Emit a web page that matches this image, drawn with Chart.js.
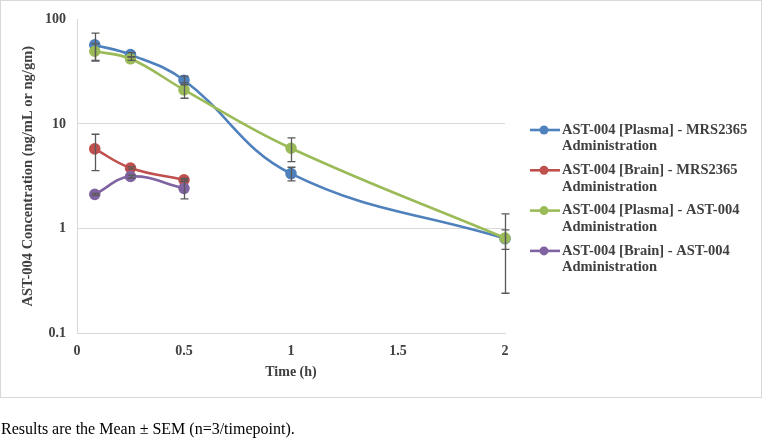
<!DOCTYPE html>
<html>
<head>
<meta charset="utf-8">
<script src="https://cdn.jsdelivr.net/npm/chart.js@4.4.0/dist/chart.umd.min.js"></script>
<style>
  body { margin: 0; background: #fff; }
  #box { position: absolute; left: 0; top: 0; width: 760px; height: 396px; border: 1px solid #d9d9d9; }
  #chart { position: absolute; left: 0; top: 0; }
</style>
</head>
<body>
<div id="box"></div>
<canvas id="chart" width="763" height="439"></canvas>
<script>
// time points (h)
const times = [0.083, 0.25, 0.5, 1, 2];
const brainTimes = [0.083, 0.25, 0.5];
const yTicks = [0.1, 1, 10, 100];

const labels = [
  'AST-004 [Plasma] - MRS2365 Administration',
  'AST-004 [Brain] - MRS2365 Administration',
  'AST-004 [Plasma] - AST-004 Administration',
  'AST-004 [Brain] - AST-004 Administration'
];
const colors = ['#4F81BD', '#C0504D', '#9BBB59', '#8064A2'];
const caption = 'Results are the Mean ± SEM (n=3/timepoint).';

// mean values
const plasmaMrs = [57, 46, 26.2, 3.35, 0.8];
const brainMrs = [5.77, 3.79, 2.92];
const plasmaAst = [49.6, 42, 21.2, 5.85, 0.81];
const brainAst = [2.12, 3.14, 2.42];

// SEM
const plasmaMrsErr = [17, 2, 2.5, 0.5, 0.17];
const brainMrsErr = [2.2, 0.1, 0.1];
const plasmaAstErr = [9, 1.5, 3.6, 1.5, 0.57];
const brainAstErr = [0.05, 0.1, 0.5];

const series = [
  { xs: times, ys: plasmaMrs, errs: plasmaMrsErr },
  { xs: brainTimes, ys: brainMrs, errs: brainMrsErr },
  { xs: times, ys: plasmaAst, errs: plasmaAstErr },
  { xs: brainTimes, ys: brainAst, errs: brainAstErr }
];

const FONT = "'Liberation Serif', 'Times New Roman', serif";

/**
 * error bars drawn with the chart's own scales
 */
const errorBars = {
  id: 'errorBars',
  afterDatasetsDraw(chart) {
    const ctx = chart.ctx;
    const y = chart.scales.y;
    ctx.save();
    ctx.strokeStyle = '#595959';
    ctx.lineWidth = 1.3;
    chart.data.datasets.forEach((ds, i) => {
      const meta = chart.getDatasetMeta(i);
      meta.data.forEach((pt, j) => {
        const v = ds.data[j].y, e = ds.errs[j];
        const top = y.getPixelForValue(v + e);
        const bot = y.getPixelForValue(v - e);
        const x = Math.round(pt.x) + 0.5;
        ctx.beginPath();
        ctx.moveTo(x, top); ctx.lineTo(x, bot);
        ctx.moveTo(x - 4, top); ctx.lineTo(x + 4, top);
        ctx.moveTo(x - 4, bot); ctx.lineTo(x + 4, bot);
        ctx.stroke();
      });
    });
    ctx.restore();
  }
};

/**
 * legend on the right, labels wrapped to two lines; caption under the box
 */
const sideLegend = {
  id: 'sideLegend',
  afterDraw(chart) {
    const ctx = chart.ctx;
    ctx.save();
    ctx.font = `bold 14.5px ${FONT}`;
    ctx.textBaseline = 'middle';
    chart.data.datasets.forEach((ds, i) => {
      const y0 = 130 + i * 40.3;
      // line sample with marker
      ctx.strokeStyle = ds.borderColor;
      ctx.lineWidth = 2.6;
      ctx.beginPath(); ctx.moveTo(530, y0); ctx.lineTo(560, y0); ctx.stroke();
      ctx.fillStyle = ds.borderColor;
      ctx.beginPath(); ctx.arc(544, y0, 4.5, 0, Math.PI * 2); ctx.fill();
      // wrap text
      const words = ds.label.split(' ');
      const lines = [];
      let cur = '';
      words.forEach(w => {
        const t = cur ? cur + ' ' + w : w;
        if (ctx.measureText(t).width > 195 && cur) { lines.push(cur); cur = w; } else cur = t;
      });
      lines.push(cur);
      ctx.fillStyle = '#404040';
      lines.forEach((l, k) => ctx.fillText(l, 562, y0 + k * 16.5));
    });
    ctx.font = `16px ${FONT}`;
    ctx.fillStyle = '#000';
    ctx.fillText(caption, 1, 430);
    ctx.restore();
  }
};

const chart = new Chart(document.getElementById('chart'), {
  type: 'line',
  data: {
    datasets: series.map((s, i) => ({
      label: labels[i],
      data: s.xs.map((x, j) => ({ x, y: s.ys[j] })),
      errs: s.errs,
      order: series.length - i,   // later series on top, like Excel
      borderColor: colors[i],
      backgroundColor: colors[i],
      pointBackgroundColor: colors[i],
      pointBorderColor: colors[i],
      borderWidth: 2.6,
      pointRadius: 4.5,
      tension: 0.4,
      clip: 8,
      fill: false
    }))
  },
  options: {
    responsive: false,
    animation: false,
    events: [],
    layout: { padding: { top: 16, right: 258, bottom: 42, left: 0 } },
    plugins: { legend: { display: false }, tooltip: { enabled: false } },
    scales: {
      x: {
        type: 'linear',
        min: 0, max: 2,
        afterFit: s => { s.height = 64; },
        ticks: { stepSize: 0.5, padding: 10, color: '#404040', callback: v => String(v),
                 font: { family: FONT, size: 14, weight: 'bold' } },
        grid: { display: false, drawTicks: false },
        border: { color: '#d9d9d9', width: 1 },
        title: { display: true, text: 'Time (h)', color: '#404040', padding: { top: 0, bottom: 16 },
                 font: { family: FONT, size: 14, weight: 'bold' } }
      },
      y: {
        type: 'logarithmic',
        min: 0.1, max: 100,
        afterFit: s => { s.width = 77; },
        afterBuildTicks: s => { s.ticks = yTicks.map(v => ({ value: v })); },
        ticks: { padding: 11, color: '#404040', callback: v => String(v),
                 font: { family: FONT, size: 14, weight: 'bold' } },
        grid: { drawTicks: false, color: c => (c.tick && c.tick.value === 100) ? 'rgba(0,0,0,0)' : '#d9d9d9' },
        border: { color: '#d9d9d9', width: 1 },
        title: { display: true, text: 'AST-004 Concentration (ng/mL or ng/gm)', color: '#404040',
                 padding: { top: 20, bottom: 0 }, font: { family: FONT, size: 14.5, weight: 'bold' } }
      }
    }
  },
  plugins: [errorBars, sideLegend]
});
</script>
</body>
</html>
